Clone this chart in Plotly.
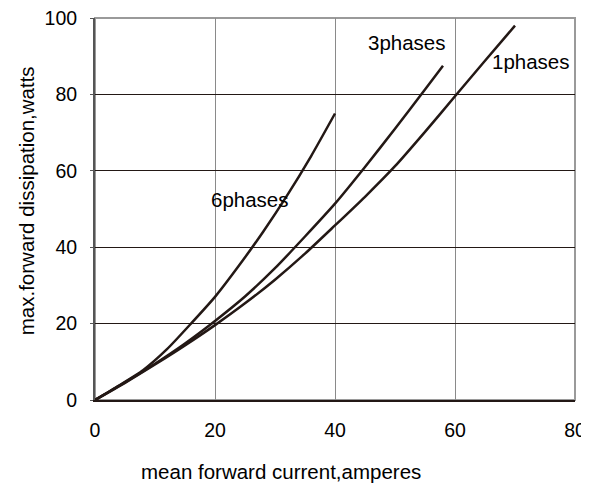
import plotly.graph_objects as go

# data
x6 = [0, 4, 8, 12, 16, 20, 24, 28, 32, 36, 40]
y6 = [0, 3.8, 7.8, 13.3, 20.0, 27.0, 35.2, 44.0, 53.5, 63.8, 75.0]

x3 = [0, 5, 10, 15, 20, 25, 30, 35, 40, 45, 50, 55, 58]
y3 = [0, 4.6, 9.5, 14.8, 20.7, 27.1, 34.5, 42.8, 51.4, 61.0, 71.0, 81.3, 87.5]

x1 = [0, 5, 10, 15, 20, 25, 30, 35, 40, 45, 50, 55, 60, 65, 70]
y1 = [0, 4.5, 9.3, 14.3, 19.6, 25.3, 31.5, 38.3, 45.7, 53.2, 61.2, 70.2, 79.5, 88.8, 98]

labels = ["6phases", "3phases", "1phases"]
label_x = [25.9, 52.0, 72.7]
label_y = [52.5, 93.7, 88.6]

x_ticks = [0, 20, 40, 60, 80]
y_ticks = [0, 20, 40, 60, 80, 100]

LINE = "#231815"
FONT = "Liberation Sans, Arial, sans-serif"

fig = go.Figure()
for xs, ys in [(x6, y6), (x3, y3), (x1, y1)]:
    fig.add_trace(go.Scatter(x=xs, y=ys, mode="lines",
                             line=dict(color=LINE, width=2.5, shape="spline", smoothing=0.6),
                             showlegend=False, hoverinfo="skip", cliponaxis=False))

for t, lx, ly in zip(labels, label_x, label_y):
    fig.add_annotation(x=lx, y=ly, text=t, showarrow=False, xref="x", yref="y",
                       xanchor="center", yanchor="middle",
                       font=dict(family=FONT, size=20.5, color="#000000"))

fig.add_annotation(x=(281 - 95) / 480, y=(400 - 472) / 382.5, xref="paper", yref="paper",
                   text="mean forward current,amperes", showarrow=False,
                   xanchor="center", yanchor="middle",
                   font=dict(family=FONT, size=20.5, color="#000000"))
fig.add_annotation(x=(26 - 95) / 480, y=(400 - 201) / 382.5, xref="paper", yref="paper",
                   text="max.forward dissipation,watts", showarrow=False, textangle=-90,
                   xanchor="center", yanchor="middle",
                   font=dict(family=FONT, size=20.5, color="#000000"))

# border (top/right gray)
fig.add_shape(type="rect", xref="paper", yref="paper", x0=0, y0=0, x1=1, y1=1,
              line=dict(color="#9a9a9a", width=2), layer="below")

# page has an ~8px body margin, so the figure is sized/offset to land the plot at the reference position
fig.update_layout(
    width=581, height=477,
    margin=dict(l=87, r=14, t=10, b=85, autoexpand=False),
    paper_bgcolor="white", plot_bgcolor="white",
    font=dict(family=FONT, size=19.5, color="#000000"),
    xaxis=dict(range=[0, 80], tickvals=x_ticks, showgrid=True, gridcolor="#8a8a8a", gridwidth=1.3,
               zeroline=False, showline=True, linecolor=LINE, linewidth=2, ticks="",
               ticklabelstandoff=12, fixedrange=True, automargin=False,
               ticklabeloverflow="allow"),
    yaxis=dict(range=[0, 100], tickvals=y_ticks, showgrid=True, gridcolor=LINE, gridwidth=1,
               zeroline=False, showline=True, linecolor="#555555", linewidth=2, ticks="outside",
               ticklen=3, tickcolor="#555555", ticklabelstandoff=9, fixedrange=True,
               automargin=False, ticklabeloverflow="allow"),
)

fig.write_html("out.html")
